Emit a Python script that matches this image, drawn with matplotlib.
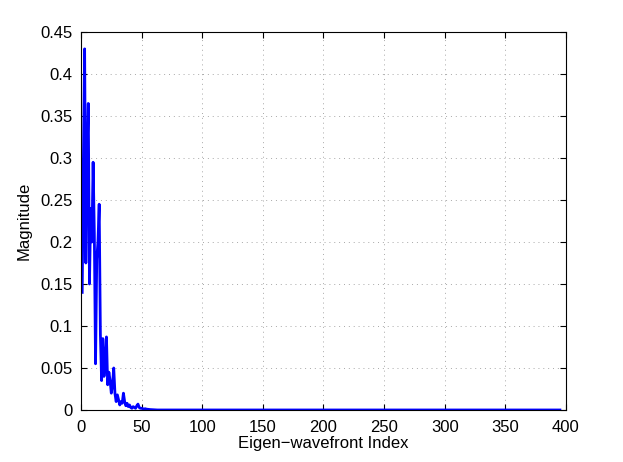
import matplotlib
matplotlib.use("Agg")
import matplotlib.pyplot as plt
import numpy as np

plt.rcParams['font.family'] = ['Liberation Sans', 'DejaVu Sans']

# Magnitudes for eigen-wavefront indices 1..60
head_values = [
    0.14, 0.30, 0.43, 0.175, 0.30, 0.365, 0.15, 0.24, 0.20, 0.295,
    0.21, 0.055, 0.18, 0.20, 0.245, 0.09, 0.035, 0.085, 0.04, 0.06,
    0.087, 0.03, 0.045, 0.035, 0.02, 0.03, 0.05, 0.02, 0.01, 0.018,
    0.012, 0.006, 0.01, 0.008, 0.02, 0.01, 0.005, 0.008, 0.004, 0.006,
    0.003, 0.002, 0.004, 0.003, 0.002, 0.005, 0.007, 0.003, 0.002, 0.002,
    0.0015, 0.001, 0.0015, 0.001, 0.0008, 0.0006, 0.0005, 0.0004, 0.0003, 0.0002,
]
# Remaining indices 61..395 are essentially zero
tail_values = [0.0] * 335
magnitudes = head_values + tail_values
indices = list(range(1, len(magnitudes) + 1))

xticks = [0, 50, 100, 150, 200, 250, 300, 350, 400]
yticks = [0, 0.05, 0.1, 0.15, 0.2, 0.25, 0.3, 0.35, 0.4, 0.45]
ytick_labels = ['0', '0.05', '0.1', '0.15', '0.2', '0.25', '0.3', '0.35', '0.4', '0.45']

fig = plt.figure(figsize=(6.23, 4.62), dpi=100)
ax = fig.add_axes([0.13, 0.1126, 0.7785, 0.818])
ax.plot(indices, magnitudes, color='#0000ff', linewidth=2.0)
ax.set_xlim(0, 400)
ax.set_ylim(0, 0.45)
ax.set_xticks(xticks)
ax.set_yticks(yticks)
ax.set_yticklabels(ytick_labels)
ax.tick_params(direction='in', length=4, labelsize=12, top=True, right=True, width=0.8)
ax.tick_params(axis='x', pad=7)
ax.tick_params(axis='y', pad=6)
ax.grid(True, linestyle=(0, (1, 4)), color='#a8a8a8', linewidth=0.7)
for s in ax.spines.values():
    s.set_linewidth(0.8)
ax.set_xlabel('Eigen\u2212wavefront Index', fontsize=12, labelpad=1)
ax.set_ylabel('Magnitude', fontsize=12, labelpad=6)
fig.savefig('out.png', dpi=100)
